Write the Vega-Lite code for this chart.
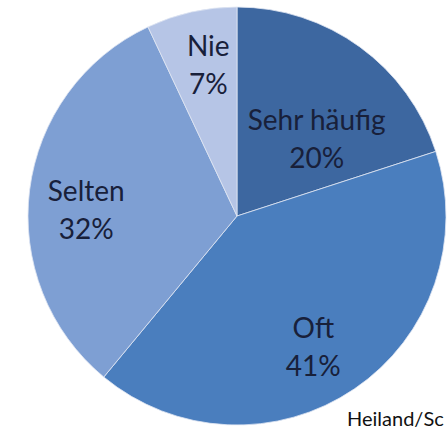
{
  "$schema": "https://vega.github.io/schema/vega-lite/v6.json",
  "width": 418,
  "height": 418,
  "autosize": "none",
  "padding": {"left": 28, "top": 7, "right": 1, "bottom": 2},
  "background": "white",
  "title": {
    "text": "Heiland/Sc",
    "orient": "bottom",
    "anchor": "start",
    "frame": "group",
    "baseline": "alphabetic",
    "offset": -1,
    "dx": 319,
    "font": "Lato",
    "fontSize": 20,
    "fontWeight": "normal",
    "color": "#111111"
  },
  "data": {
    "values": [
      {"kategorie": "Sehr häufig", "anteil": 20, "order": 1, "label": "Sehr häufig\n20%"},
      {"kategorie": "Oft", "anteil": 41, "order": 2, "label": "Oft\n41%"},
      {"kategorie": "Selten", "anteil": 32, "order": 3, "label": "Selten\n32%"},
      {"kategorie": "Nie", "anteil": 7, "order": 4, "label": "Nie\n7%"}
    ]
  },
  "transform": [
    {"stack": "anteil", "groupby": [], "sort": [{"field": "order", "order": "ascending"}], "as": ["t0", "t1"]},
    {"calculate": "(datum.t0 + datum.t1) / 2", "as": "mitte"}
  ],
  "config": {"view": {"stroke": null}},
  "layer": [
    {
      "mark": {"type": "arc", "stroke": "#dfe6f2", "strokeWidth": 0.8},
      "encoding": {
        "theta": {"field": "t0", "type": "quantitative", "scale": {"domain": [0, 100]}},
        "theta2": {"field": "t1"},
        "color": {
          "field": "kategorie",
          "type": "nominal",
          "scale": {
            "domain": ["Sehr häufig", "Oft", "Selten", "Nie"],
            "range": ["#3D67A0", "#4A7EBE", "#7E9FD3", "#B6C5E6"]
          },
          "legend": null
        }
      }
    },
    {
      "transform": [{"filter": "datum.kategorie === 'Sehr häufig'"}],
      "mark": {"type": "text", "radius": 110, "dx": 15, "dy": -5, "lineBreak": "\n", "lineHeight": 38, "font": "Lato", "fontSize": 28, "fill": "#18203A", "baseline": "middle", "align": "center"},
      "encoding": {"theta": {"field": "mitte", "type": "quantitative", "scale": {"domain": [0, 100]}}, "text": {"field": "label"}}
    },
    {
      "transform": [{"filter": "datum.kategorie === 'Oft'"}],
      "mark": {"type": "text", "radius": 150, "dx": -8, "dy": -10, "lineBreak": "\n", "lineHeight": 38, "font": "Lato", "fontSize": 28, "fill": "#18203A", "baseline": "middle", "align": "center"},
      "encoding": {"theta": {"field": "mitte", "type": "quantitative", "scale": {"domain": [0, 100]}}, "text": {"field": "label"}}
    },
    {
      "transform": [{"filter": "datum.kategorie === 'Selten'"}],
      "mark": {"type": "text", "radius": 150, "dx": -2, "dy": -4, "lineBreak": "\n", "lineHeight": 38, "font": "Lato", "fontSize": 28, "fill": "#18203A", "baseline": "middle", "align": "center"},
      "encoding": {"theta": {"field": "mitte", "type": "quantitative", "scale": {"domain": [0, 100]}}, "text": {"field": "label"}}
    },
    {
      "transform": [{"filter": "datum.kategorie === 'Nie'"}],
      "mark": {"type": "text", "radius": 150, "dx": 4, "dy": -22, "lineBreak": "\n", "lineHeight": 38, "font": "Lato", "fontSize": 28, "fill": "#18203A", "baseline": "middle", "align": "center"},
      "encoding": {"theta": {"field": "mitte", "type": "quantitative", "scale": {"domain": [0, 100]}}, "text": {"field": "label"}}
    }
  ]
}
